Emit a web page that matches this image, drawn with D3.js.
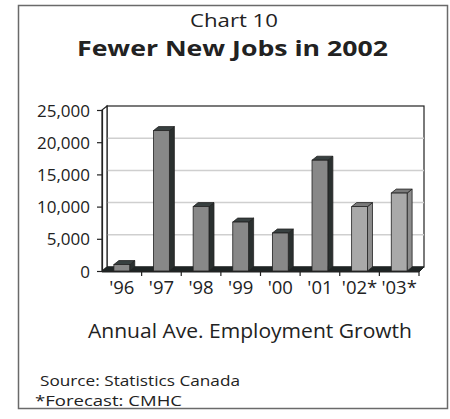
<!DOCTYPE html>
<html>
<head>
<meta charset="utf-8">
<script src="https://cdn.jsdelivr.net/npm/d3@7"></script>
<style>
  body { margin: 0; background: #fff; }
  text { font-family: "Open Sans", sans-serif; fill: #222; }
</style>
</head>
<body>
<script>
// chart data
var years = ["'96", "'97", "'98", "'99", "'00", "'01", "'02*", "'03*"];
var growth = [1000, 21800, 10000, 7600, 5900, 17200, 10000, 12100];
var forecast = [false, false, false, false, false, false, true, true];
var yTicks = [0, 5000, 10000, 15000, 20000, 25000];

var dimensions = { width: 450, height: 419 };
var plot = { left: 102, right: 419, top: 110, bottom: 271 };
var depth = { dx: 5, dy: -4 };

var svg = d3.select('body').append('svg')
  .attr('width', dimensions.width).attr('height', dimensions.height);

// outer frame
svg.append('rect').attr('x', 18.5).attr('y', 5.5).attr('width', 429).attr('height', 403)
  .attr('fill', 'none').attr('stroke', '#6a6a6a').attr('stroke-width', 1.5);

// titles, widths
var label = function(txt, px, py, size, len, anchor, weight) {
  return svg.append('text').attr('x', px).attr('y', py).attr('text-anchor', anchor || 'start')
    .attr('textLength', len).attr('lengthAdjust', 'spacingAndGlyphs')
    .style('font-size', size + 'px').style('font-weight', weight || 'normal').text(txt);
};
label('Chart 10', 234, 27, 18, 88, 'middle');
label('Fewer New Jobs in 2002', 232.5, 55.5, 21, 311, 'middle', 'bold');

var x = d3.scaleBand().domain(years).range([plot.left, plot.right]).paddingInner(0.6).paddingOuter(0.3);
var xOuter = d3.scaleBand().domain(years).range([plot.left, plot.right]);
var y = d3.scaleLinear().domain([0, 25000]).range([plot.bottom, plot.top]);

// back wall
var back = svg.append('g').attr('transform', 'translate(' + depth.dx + ',' + depth.dy + ')');
back.append('rect').attr('x', plot.left).attr('y', plot.top)
  .attr('width', plot.right - plot.left).attr('height', plot.bottom - plot.top)
  .attr('fill', '#fff').attr('stroke', '#222').attr('stroke-width', 1.2);
back.selectAll('line.grid').data(yTicks.slice(1, -1)).enter().append('line')
  .attr('x1', plot.left).attr('x2', plot.right)
  .attr('y1', function(d) { return y(d); }).attr('y2', function(d) { return y(d); })
  .attr('stroke', '#cfcfcf').attr('stroke-width', 1.5);

// left side wall
svg.append('path')
  .attr('d', 'M' + plot.left + ',' + plot.bottom + 'L' + plot.left + ',' + plot.top +
    'l' + depth.dx + ',' + depth.dy + 'L' + (plot.left + depth.dx) + ',' + (plot.bottom + depth.dy) + 'Z')
  .attr('fill', '#fff').attr('stroke', '#222').attr('stroke-width', 1.2);

// floor
svg.append('path')
  .attr('d', 'M' + plot.left + ',' + (plot.bottom + 1) + 'L' + plot.right + ',' + (plot.bottom + 1) +
    'l' + depth.dx + ',' + (depth.dy - 1) + 'L' + (plot.left + depth.dx) + ',' + (plot.bottom + depth.dy) + 'Z')
  .attr('fill', '#1e2424').attr('stroke', '#1e2424');

// bars
var bars = svg.selectAll('g.bar').data(growth).enter().append('g');
bars.append('path')
  .attr('d', function(d, i) {
    var x1 = x(years[i]) + x.bandwidth();
    return 'M' + x1 + ',' + y(d) + 'L' + x1 + ',' + plot.bottom + 'l' + depth.dx + ',' + depth.dy +
      'L' + (x1 + depth.dx) + ',' + (y(d) + depth.dy) + 'Z';
  })
  .attr('fill', function(d, i) { return forecast[i] ? '#8c8c8c' : '#2a302f'; })
  .attr('stroke', '#222').attr('stroke-width', 0.8);
bars.append('path')
  .attr('d', function(d, i) {
    var x0 = x(years[i]), x1 = x0 + x.bandwidth();
    return 'M' + x0 + ',' + y(d) + 'L' + x1 + ',' + y(d) + 'l' + depth.dx + ',' + depth.dy +
      'L' + (x0 + depth.dx) + ',' + (y(d) + depth.dy) + 'Z';
  })
  .attr('fill', function(d, i) { return forecast[i] ? '#7a7a7a' : '#384040'; })
  .attr('stroke', '#222').attr('stroke-width', 0.8);
bars.append('rect')
  .attr('x', function(d, i) { return x(years[i]); })
  .attr('y', function(d) { return y(d); })
  .attr('width', x.bandwidth())
  .attr('height', function(d) { return plot.bottom - y(d); })
  .attr('fill', function(d, i) { return forecast[i] ? '#a9a9a9' : '#888888'; })
  .attr('stroke', '#222').attr('stroke-width', 0.8);

// axes
var yAxis = svg.append('g').attr('transform', 'translate(' + plot.left + ',0)')
  .call(d3.axisLeft(y).tickValues(yTicks).tickSize(5).tickPadding(7).tickFormat(d3.format(',')));
var xAxis = svg.append('g').attr('transform', 'translate(0,' + plot.bottom + ')')
  .call(d3.axisBottom(xOuter).tickSize(0).tickPadding(10));
svg.append('g').selectAll('line').data(years).enter().append('line')
  .attr('x1', function(d) { return xOuter(d) + xOuter.bandwidth(); })
  .attr('x2', function(d) { return xOuter(d) + xOuter.bandwidth(); })
  .attr('y1', plot.bottom).attr('y2', plot.bottom + 5)
  .attr('stroke', '#222').attr('stroke-width', 1.2);
[yAxis, xAxis].forEach(function(a) {
  a.select('.domain').attr('stroke', '#222').attr('stroke-width', 1.2);
  a.selectAll('.tick line').attr('stroke', '#222').attr('stroke-width', 1.2);
  a.selectAll('text').style('font-size', '17px').style('font-family', '"Open Sans", sans-serif').attr('fill', '#222');
});
yAxis.selectAll('text').attr('dy', '0.36em');
xAxis.selectAll('text').style('font-size', '18.5px');

label('Annual Ave. Employment Growth', 250, 338, 20.5, 324, 'middle');
label('Source: Statistics Canada', 40, 385.5, 14, 200);
label('*Forecast: CMHC', 35, 405.5, 14, 147);
</script>
</body>
</html>
